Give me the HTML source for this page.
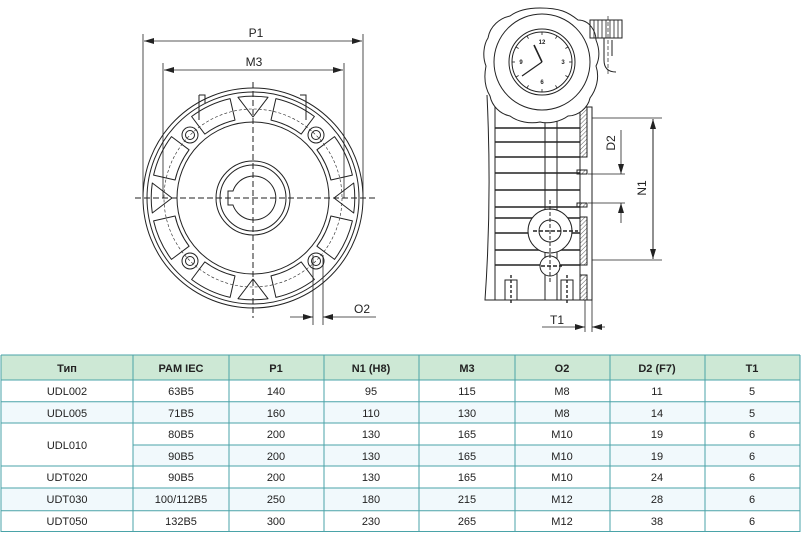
<!DOCTYPE html>
<html><head><meta charset="utf-8"><style>
html,body{margin:0;padding:0;background:#fff;width:802px;height:535px;overflow:hidden}
svg{display:block}
text{font-family:"Liberation Sans",sans-serif}
</style></head><body>
<svg width="802" height="535" viewBox="0 0 802 535" xmlns="http://www.w3.org/2000/svg">
<defs>
<marker id="a" viewBox="0 0 10 6" refX="10" refY="3" markerWidth="10" markerHeight="6" orient="auto-start-reverse" markerUnits="userSpaceOnUse"><path d="M0,0 L10,3 L0,6 Z" fill="#222"/></marker>
<pattern id="h" width="3" height="3" patternUnits="userSpaceOnUse" patternTransform="rotate(45)"><line x1="0" y1="0" x2="0" y2="3" stroke="#333" stroke-width="0.8"/></pattern>
<g id="q">
<path d="M77.9,18 L99.4,22.9 A102,102 0 0 1 81.5,61.4 L63.9,48.2 A80,80 0 0 0 77.9,18 Z"/>
<path d="M48.2,63.9 L61.4,81.5 A102,102 0 0 1 22.9,99.4 L18,77.9 A80,80 0 0 0 48.2,63.9 Z"/>
<path d="M81,0 L100.7,-15 A102,102 0 0 1 100.7,15 Z"/>
<circle cx="63" cy="63" r="8"/><circle cx="63" cy="63" r="4.5"/>
</g>
<line id="tk" x1="0" y1="-30" x2="0" y2="-27" stroke="#222" stroke-width="0.8"/>
</defs>

<!-- FRONT VIEW -->
<g fill="none" stroke="#222" stroke-width="1">
<circle cx="253" cy="198" r="110"/>
<circle cx="253" cy="198" r="106"/>
<circle cx="253" cy="198" r="76"/>
<circle cx="253" cy="198" r="89" stroke-dasharray="3,2" stroke-width="0.6"/>
<g transform="translate(253,198)" stroke-linejoin="round">
<use href="#q"/><use href="#q" transform="rotate(90)"/><use href="#q" transform="rotate(180)"/><use href="#q" transform="rotate(270)"/>
</g>
<circle cx="253" cy="198" r="37"/>
<circle cx="253" cy="198" r="33"/>
<path d="M233,191 A22,22 0 1 1 233,205 L228,205 L228,191 Z"/>
<path d="M199,95 L205,95 L205,103 M199,95 L199,120 M300,95 L306,95 L306,103 M306,95 L306,120"/>
<line x1="135" y1="198" x2="375" y2="198" stroke-dasharray="6,3"/>
<line x1="253" y1="82" x2="253" y2="318" stroke-dasharray="6,3"/>
<!-- dims -->
<line x1="143" y1="34" x2="143" y2="198" stroke-width="0.8"/>
<line x1="363" y1="34" x2="363" y2="198" stroke-width="0.8"/>
<line x1="144" y1="41" x2="362" y2="41" stroke-width="0.8" marker-start="url(#a)" marker-end="url(#a)"/>
<line x1="163" y1="63" x2="163" y2="198" stroke-width="0.8"/>
<line x1="344" y1="63" x2="344" y2="198" stroke-width="0.8"/>
<line x1="164" y1="70" x2="343" y2="70" stroke-width="0.8" marker-start="url(#a)" marker-end="url(#a)"/>
<line x1="313" y1="255" x2="313" y2="325" stroke-width="0.8"/>
<line x1="323" y1="255" x2="323" y2="325" stroke-width="0.8"/>
<line x1="290" y1="317" x2="313" y2="317" stroke-width="0.8" marker-end="url(#a)"/>
<line x1="376" y1="317" x2="323" y2="317" stroke-width="0.8" marker-end="url(#a)"/>
</g>
<text x="256" y="37" font-size="12" text-anchor="middle" fill="#222">P1</text>
<text x="254" y="66" font-size="12" text-anchor="middle" fill="#222">M3</text>
<text x="362" y="313" font-size="12" text-anchor="middle" fill="#222">O2</text>

<!-- SIDE VIEW -->
<g fill="none" stroke="#222" stroke-width="1">
<path d="M487,95 Q492,200 485,300 L495,300 L495,95"/>
<rect x="495" y="100" width="85" height="200"/>
<g stroke-width="1.6">
<line x1="495" y1="128" x2="580" y2="128"/><line x1="495" y1="142" x2="580" y2="142"/>
<line x1="495" y1="157" x2="580" y2="157"/><line x1="495" y1="173" x2="580" y2="173"/>
<line x1="495" y1="190" x2="580" y2="190"/><line x1="495" y1="207" x2="580" y2="207"/>
<line x1="495" y1="218" x2="580" y2="218"/><line x1="495" y1="233" x2="580" y2="233"/>
<line x1="495" y1="250" x2="580" y2="250"/><line x1="495" y1="265" x2="580" y2="265"/>
</g>
<line x1="545" y1="100" x2="545" y2="300"/><line x1="557" y1="100" x2="557" y2="300"/>
<line x1="485" y1="300" x2="592" y2="300"/>
<circle cx="550" cy="231" r="22" fill="#fff"/><circle cx="550" cy="231" r="11"/>
<circle cx="550" cy="266" r="10" fill="#fff"/>
<line x1="533" y1="231" x2="578" y2="231" stroke-dasharray="4,2" stroke-width="1.6"/>
<line x1="541" y1="266" x2="562" y2="266" stroke-dasharray="4,2" stroke-width="1.6"/>
<line x1="550" y1="200" x2="550" y2="283" stroke-dasharray="4,2"/>
<rect x="505" y="280" width="12" height="20"/><rect x="561" y="280" width="12" height="20"/>
<line x1="511" y1="275" x2="511" y2="304" stroke-dasharray="3,2" stroke-width="1.4"/>
<line x1="567" y1="275" x2="567" y2="304" stroke-dasharray="3,2" stroke-width="1.4"/>
<!-- flange -->
<rect x="580" y="107" width="12" height="193" fill="#fff"/>
<rect x="580" y="107" width="7" height="50" fill="url(#h)"/>
<rect x="577" y="170" width="10" height="4" fill="url(#h)"/>
<rect x="577" y="203" width="10" height="4" fill="url(#h)"/>
<rect x="580" y="217" width="7" height="48" fill="url(#h)"/>
<rect x="580" y="275" width="7" height="25" fill="url(#h)"/>
<!-- clock head -->
<path d="M540,8 C560,8 568,12 578,20 C590,20 596,32 596,40 C600,50 600,58 596,66 C600,78 596,90 590,98 C588,108 578,116 568,116 C560,122 548,124 540,122 C530,124 518,122 510,116 C500,114 492,106 490,96 C484,86 484,76 486,66 C482,56 484,44 488,38 C490,26 500,18 510,16 C518,10 530,8 540,8 Z" fill="#fff"/>
<circle cx="542" cy="62" r="48"/>
<circle cx="542" cy="62" r="33"/>
<circle cx="542" cy="62" r="30"/>
<g transform="translate(542,62)">
<use href="#tk"/><use href="#tk" transform="rotate(30)"/><use href="#tk" transform="rotate(60)"/><use href="#tk" transform="rotate(90)"/><use href="#tk" transform="rotate(120)"/><use href="#tk" transform="rotate(150)"/><use href="#tk" transform="rotate(180)"/><use href="#tk" transform="rotate(210)"/><use href="#tk" transform="rotate(240)"/><use href="#tk" transform="rotate(270)"/><use href="#tk" transform="rotate(300)"/><use href="#tk" transform="rotate(330)"/>
<line x1="0" y1="0" x2="-8" y2="-17" stroke-width="1.6"/>
<line x1="0" y1="0" x2="-20" y2="14" stroke-width="1.2"/>
</g>
<rect x="590" y="20" width="32" height="18"/>
<path d="M594,20 V38 M598,20 V38 M602,20 V38 M606,20 V38 M610,20 V38 M614,20 V38 M618,20 V38" stroke-width="0.8"/>
<path d="M604,38 V60 Q604,72 616,72 M612,40 V56"/>
<line x1="608" y1="16" x2="608" y2="76" stroke-dasharray="4,2" stroke-width="0.7"/>
<!-- dims -->
<line x1="592" y1="118" x2="662" y2="118" stroke-width="0.8"/>
<line x1="592" y1="260" x2="662" y2="260" stroke-width="0.8"/>
<line x1="653" y1="119" x2="653" y2="259" stroke-width="1" marker-start="url(#a)" marker-end="url(#a)"/>
<line x1="588" y1="174" x2="625" y2="174" stroke-width="0.8"/>
<line x1="588" y1="203" x2="625" y2="203" stroke-width="0.8"/>
<line x1="621" y1="130" x2="621" y2="174" stroke-width="0.8" marker-end="url(#a)"/>
<line x1="621" y1="223" x2="621" y2="203" stroke-width="0.8" marker-end="url(#a)"/>
<line x1="585" y1="300" x2="585" y2="332" stroke-width="0.8"/>
<line x1="592" y1="300" x2="592" y2="332" stroke-width="0.8"/>
<line x1="542" y1="327" x2="585" y2="327" stroke-width="0.8" marker-end="url(#a)"/>
<line x1="605" y1="327" x2="592" y2="327" stroke-width="0.8" marker-end="url(#a)"/>
</g>
<g font-size="6" font-weight="bold" fill="#222" text-anchor="middle">
<text x="542" y="44">12</text><text x="563" y="64">3</text><text x="542" y="84">6</text><text x="521" y="64">9</text>
</g>
<text x="0" y="0" font-size="12" fill="#222" text-anchor="middle" transform="translate(615,143) rotate(-90)">D2</text>
<text x="0" y="0" font-size="12" fill="#222" text-anchor="middle" transform="translate(646,188) rotate(-90)">N1</text>
<text x="557" y="324" font-size="12" fill="#222" text-anchor="middle">T1</text>

<!-- TABLE -->
<rect x="1" y="355" width="799" height="25" fill="#cde8d5"/>
<g fill="#f1f9fc">
<rect x="1" y="401.7" width="799" height="21.3"/>
<rect x="133" y="445" width="667" height="21"/>
<rect x="1" y="488" width="799" height="22.7"/>
</g>
<g stroke="#4aa3a8" stroke-width="1" fill="none">
<line x1="1" y1="355" x2="800" y2="355"/>
<line x1="1" y1="380" x2="800" y2="380"/>
<line x1="1" y1="401.7" x2="800" y2="401.7"/>
<line x1="1" y1="423" x2="800" y2="423"/>
<line x1="133" y1="445" x2="800" y2="445"/>
<line x1="1" y1="466" x2="800" y2="466"/>
<line x1="1" y1="488" x2="800" y2="488"/>
<line x1="1" y1="510.7" x2="800" y2="510.7"/>
<line x1="1" y1="531.5" x2="800" y2="531.5"/>
<line x1="1" y1="355" x2="1" y2="532"/>
<line x1="133" y1="355" x2="133" y2="532"/>
<line x1="229" y1="355" x2="229" y2="532"/>
<line x1="324" y1="355" x2="324" y2="532"/>
<line x1="419" y1="355" x2="419" y2="532"/>
<line x1="515" y1="355" x2="515" y2="532"/>
<line x1="610" y1="355" x2="610" y2="532"/>
<line x1="705" y1="355" x2="705" y2="532"/>
<line x1="800" y1="355" x2="800" y2="532"/>
</g>
<g font-size="11" fill="#222" text-anchor="middle">
<g font-weight="bold">
<text x="67" y="372">Тип</text><text x="181" y="372">PAM IEC</text><text x="276" y="372">P1</text><text x="371" y="372">N1 (H8)</text><text x="467" y="372">M3</text><text x="562" y="372">O2</text><text x="657" y="372">D2 (F7)</text><text x="752" y="372">T1</text>
</g>
<g transform="translate(0,395)"><text x="67">UDL002</text><text x="181">63B5</text><text x="276">140</text><text x="371">95</text><text x="467">115</text><text x="562">M8</text><text x="657">11</text><text x="752">5</text></g>
<g transform="translate(0,417)"><text x="67">UDL005</text><text x="181">71B5</text><text x="276">160</text><text x="371">110</text><text x="467">130</text><text x="562">M8</text><text x="657">14</text><text x="752">5</text></g>
<text x="67" y="449">UDL010</text>
<g transform="translate(0,438)"><text x="181">80B5</text><text x="276">200</text><text x="371">130</text><text x="467">165</text><text x="562">M10</text><text x="657">19</text><text x="752">6</text></g>
<g transform="translate(0,460)"><text x="181">90B5</text><text x="276">200</text><text x="371">130</text><text x="467">165</text><text x="562">M10</text><text x="657">19</text><text x="752">6</text></g>
<g transform="translate(0,481)"><text x="67">UDT020</text><text x="181">90B5</text><text x="276">200</text><text x="371">130</text><text x="467">165</text><text x="562">M10</text><text x="657">24</text><text x="752">6</text></g>
<g transform="translate(0,503)"><text x="67">UDT030</text><text x="181">100/112B5</text><text x="276">250</text><text x="371">180</text><text x="467">215</text><text x="562">M12</text><text x="657">28</text><text x="752">6</text></g>
<g transform="translate(0,525)"><text x="67">UDT050</text><text x="181">132B5</text><text x="276">300</text><text x="371">230</text><text x="467">265</text><text x="562">M12</text><text x="657">38</text><text x="752">6</text></g>
</g>
</svg>
</body></html>
